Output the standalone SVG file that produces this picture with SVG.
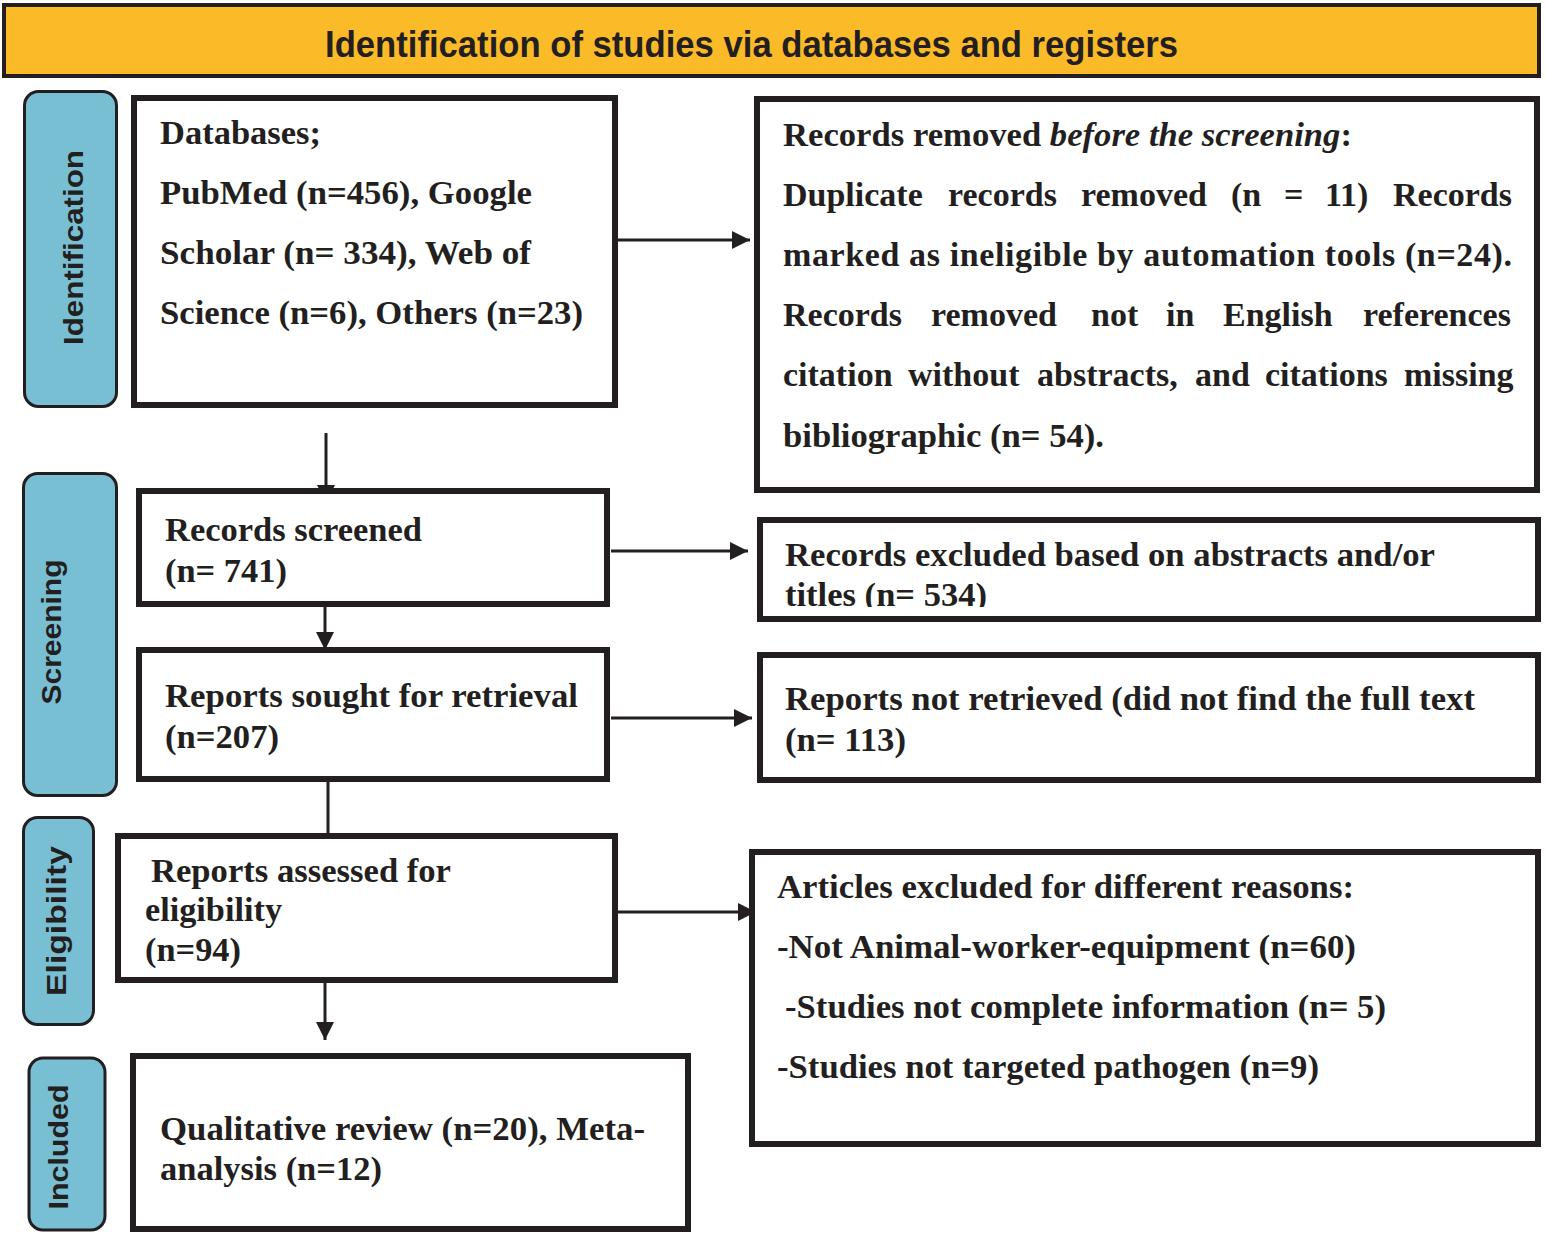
<svg xmlns="http://www.w3.org/2000/svg" width="1546" height="1233" viewBox="0 0 1546 1233">
<style>
.box{fill:#ffffff;stroke:#231f20;stroke-width:6}
.side{fill:#79bfd4;stroke:#231f20;stroke-width:3}
.t{font-family:"Liberation Serif","Times New Roman",serif;font-weight:bold;font-size:34px;fill:#231f20}
.s{font-family:"Liberation Sans",Arial,sans-serif;font-weight:bold;font-size:28px;fill:#231f20;text-anchor:middle}
.c{stroke:#231f20;stroke-width:3;fill:none;marker-end:url(#ah)}
</style>
<defs>
<marker id="ah" markerUnits="userSpaceOnUse" markerWidth="18" markerHeight="18" refX="18" refY="9" orient="auto">
<path d="M0,0 L18,9 L0,18 Z" fill="#231f20"/>
</marker>
<clipPath id="clipExcl"><rect x="760" y="520" width="778" height="87"/></clipPath>
</defs>
<rect width="1546" height="1233" fill="#ffffff"/>

<g id="title">
<rect x="4" y="5" width="1535" height="71" fill="#fbba27" stroke="#231f20" stroke-width="4"/>
<text x="325" y="57" font-family="'Liberation Sans',Arial,sans-serif" font-weight="bold" font-size="37" fill="#231f20" textLength="853" lengthAdjust="spacingAndGlyphs">Identification of studies via databases and registers</text>
</g>

<g id="label-identification">
<rect class="side" x="24.5" y="91.5" width="92" height="315" rx="14"/>
<text class="s" transform="translate(83,247.5) rotate(-90)" textLength="195" lengthAdjust="spacingAndGlyphs">Identification</text>
</g>
<g id="label-screening">
<rect class="side" x="23.5" y="473.5" width="93" height="322" rx="14"/>
<text class="s" transform="translate(61,632) rotate(-90)" font-size="26" textLength="145" lengthAdjust="spacingAndGlyphs">Screening</text>
</g>
<g id="label-eligibility">
<rect class="side" x="23.5" y="817.5" width="70" height="207" rx="14"/>
<text class="s" transform="translate(66,921) rotate(-90)" font-size="26" textLength="150" lengthAdjust="spacingAndGlyphs">Eligibility</text>
</g>
<g id="label-included">
<rect class="side" x="29" y="1058" width="76" height="172" rx="14"/>
<text class="s" transform="translate(68,1147) rotate(-90)" textLength="125" lengthAdjust="spacingAndGlyphs">Included</text>
</g>

<g id="connectors">
<line class="c" x1="610" y1="240" x2="750" y2="240"/>
<line class="c" x1="326" y1="433" x2="326" y2="503"/>
<line class="c" x1="611" y1="551" x2="748" y2="551"/>
<line class="c" x1="325" y1="607" x2="325" y2="650"/>
<line class="c" x1="611" y1="718" x2="752" y2="718"/>
<line class="c" x1="328" y1="782" x2="328" y2="852"/>
<line class="c" x1="618" y1="912" x2="756" y2="912"/>
<line class="c" x1="325" y1="983" x2="325" y2="1040"/>
</g>

<g id="databases">
<rect class="box" x="134" y="98" width="481" height="307"/>
<text class="t" x="160" y="144" textLength="161" lengthAdjust="spacingAndGlyphs">Databases;</text>
<text class="t" x="160" y="204" textLength="372" lengthAdjust="spacingAndGlyphs">PubMed (n=456), Google</text>
<text class="t" x="160" y="264" textLength="371" lengthAdjust="spacingAndGlyphs">Scholar (n= 334), Web of</text>
<text class="t" x="160" y="324" textLength="423" lengthAdjust="spacingAndGlyphs">Science (n=6), Others (n=23)</text>
</g>

<g id="removed-before-screening">
<rect class="box" x="757" y="99" width="780" height="391"/>
<text class="t" x="783" y="146" textLength="569" lengthAdjust="spacingAndGlyphs">Records removed <tspan font-style="italic">before the screening</tspan>:</text>
<text class="t" y="206"><tspan x="783">Duplicate</tspan><tspan x="948">records</tspan><tspan x="1081">removed</tspan><tspan x="1231">(n</tspan><tspan x="1284">=</tspan><tspan x="1325">11)</tspan><tspan x="1393">Records</tspan></text>
<text class="t" x="783" y="266" textLength="729" lengthAdjust="spacing">marked as ineligible by automation tools (n=24).</text>
<text class="t" y="326"><tspan x="783">Records</tspan><tspan x="931">removed</tspan><tspan x="1091">not</tspan><tspan x="1166">in</tspan><tspan x="1223">English</tspan><tspan x="1363">references</tspan></text>
<text class="t" y="386"><tspan x="783">citation</tspan><tspan x="908">without</tspan><tspan x="1037">abstracts,</tspan><tspan x="1195">and</tspan><tspan x="1265">citations</tspan><tspan x="1404">missing</tspan></text>
<text class="t" x="783" y="447" textLength="321" lengthAdjust="spacingAndGlyphs">bibliographic (n= 54).</text>
</g>

<g id="records-screened">
<rect class="box" x="139" y="491" width="468" height="113"/>
<text class="t" x="165" y="541" textLength="257" lengthAdjust="spacingAndGlyphs">Records screened</text>
<text class="t" x="165" y="582" textLength="122" lengthAdjust="spacingAndGlyphs">(n= 741)</text>
</g>

<g id="records-excluded">
<rect class="box" x="760" y="520" width="778" height="99"/>
<text class="t" x="785" y="566" textLength="650" lengthAdjust="spacingAndGlyphs">Records excluded based on abstracts and/or</text>
<text class="t" x="785" y="606" textLength="202" lengthAdjust="spacingAndGlyphs" clip-path="url(#clipExcl)">titles (n= 534)</text>
</g>

<g id="reports-sought">
<rect class="box" x="139" y="650" width="468" height="129"/>
<text class="t" x="165" y="707" textLength="413" lengthAdjust="spacingAndGlyphs">Reports sought for retrieval</text>
<text class="t" x="165" y="748" textLength="114" lengthAdjust="spacingAndGlyphs">(n=207)</text>
</g>

<g id="reports-not-retrieved">
<rect class="box" x="760" y="655" width="778" height="125"/>
<text class="t" x="785" y="710" textLength="690" lengthAdjust="spacingAndGlyphs">Reports not retrieved (did not find the full text</text>
<text class="t" x="785" y="751" textLength="121" lengthAdjust="spacingAndGlyphs">(n= 113)</text>
</g>

<g id="reports-assessed">
<rect class="box" x="118" y="836" width="497" height="144"/>
<text class="t" x="151" y="882" textLength="300" lengthAdjust="spacingAndGlyphs">Reports assessed for</text>
<text class="t" x="145" y="921" textLength="137" lengthAdjust="spacingAndGlyphs">eligibility</text>
<text class="t" x="145" y="961" textLength="96" lengthAdjust="spacingAndGlyphs">(n=94)</text>
</g>

<g id="articles-excluded">
<rect class="box" x="752" y="852" width="786" height="292"/>
<text class="t" x="777" y="898" textLength="577" lengthAdjust="spacingAndGlyphs">Articles excluded for different reasons:</text>
<text class="t" x="777" y="958" textLength="579" lengthAdjust="spacingAndGlyphs">-Not Animal-worker-equipment (n=60)</text>
<text class="t" x="785" y="1018" textLength="601" lengthAdjust="spacingAndGlyphs">-Studies not complete information (n= 5)</text>
<text class="t" x="777" y="1078" textLength="542" lengthAdjust="spacingAndGlyphs">-Studies not targeted pathogen (n=9)</text>
</g>

<g id="included">
<rect class="box" x="133" y="1056" width="555" height="173"/>
<text class="t" x="160" y="1140" textLength="485" lengthAdjust="spacingAndGlyphs">Qualitative review (n=20), Meta-</text>
<text class="t" x="160" y="1180" textLength="222" lengthAdjust="spacingAndGlyphs">analysis (n=12)</text>
</g>
</svg>
